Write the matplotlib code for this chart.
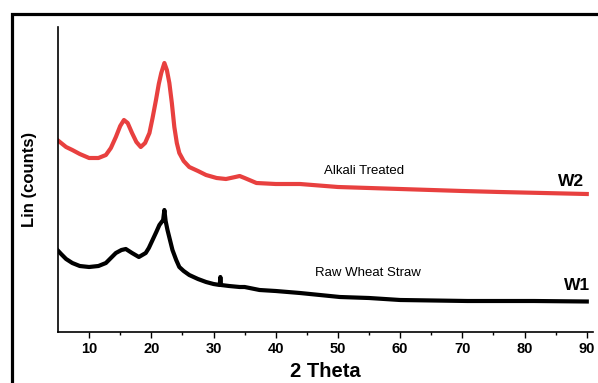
from matplotlib import pyplot as plt
from matplotlib.patches import Rectangle

plt.rcParams['font.family'] = ['Liberation Sans', 'DejaVu Sans']

# W2 - alkali treated (2 theta, counts)
w2_theta = [4.9, 5.5, 6.3, 7.3, 8.5, 10, 11.5, 12.7, 13.5, 14.3, 15, 15.6, 16.2, 16.9,
            17.6, 18.3, 19, 19.7, 20.2, 20.75, 21.2, 21.6, 22.1, 22.5, 22.9, 23.3, 23.7,
            24.1, 24.5, 25.2, 26.1, 27.5, 28.8, 30.5, 32, 33.5, 34.2, 35, 36.9, 40,
            43.9, 50, 60, 70, 76, 83, 90]
w2_counts = [1920, 1890, 1850, 1820, 1780, 1740, 1740, 1770, 1840, 1950, 2060, 2120, 2090, 1990,
             1900, 1850, 1890, 1990, 2140, 2320, 2480, 2590, 2690, 2620, 2490, 2290, 2050,
             1890, 1790, 1710, 1650, 1610, 1570, 1540, 1530, 1550, 1560, 1540, 1490, 1480,
             1480, 1450, 1430, 1410, 1400, 1390, 1380]

# W1 - raw wheat straw
w1_theta = [4.9, 5.5, 6.3, 7.3, 8.5, 10, 11.5, 12.7, 13.5, 14.3, 15.2, 15.9, 16.9, 18,
            19.1, 19.6, 20.2, 20.8, 21.3, 21.9, 22.1, 22.3, 22.6, 23, 23.4, 24, 24.5,
            25.2, 26.1, 27.5, 28.8, 30, 31, 31.1, 31.2, 32.5, 34.2, 35, 37.4, 40, 43.9,
            50.3, 55, 60, 70.8, 81.5, 90]
w1_counts = [820, 780, 730, 690, 660, 650, 660, 690, 740, 790, 820, 830, 790, 750,
             790, 840, 920, 1000, 1070, 1120, 1220, 1110, 1020, 920, 820, 720, 650,
             610, 570, 530, 500, 480, 470, 550, 470, 460, 450, 450, 420, 410, 390,
             350, 340, 320, 310, 310, 305]

xticks = [10, 20, 30, 40, 50, 60, 70, 80, 90]

fig = plt.figure(figsize=(5.98, 3.83), dpi=100)
ax = fig.add_axes([58/598, 51/383, 535/598, 305/383])

ax.plot(w2_theta, w2_counts, color='#e8403f', lw=3, solid_joinstyle='round')
ax.plot(w1_theta, w1_counts, color='black', lw=3, solid_joinstyle='round')

ax.text(54.2, 1610, 'Alkali Treated', fontsize=9.5, ha='center', va='center')
ax.text(54.8, 593, 'Raw Wheat Straw', fontsize=9.5, ha='center', va='center')
ax.text(87.4, 1503, 'W2', fontsize=12.5, fontweight='bold', ha='center', va='center')
ax.text(88.4, 460, 'W1', fontsize=12.5, fontweight='bold', ha='center', va='center')

ax.set_xlim(5, 91)
ax.set_ylim(0, 3050)
ax.set_xticks(xticks)
ax.set_xticks([15, 25, 35, 45, 55, 65, 75, 85], minor=True)
ax.set_yticks([])
for lab in ax.get_xticklabels():
    lab.set_fontweight('bold')
ax.tick_params(axis='x', which='major', length=4, width=1, labelsize=10.5, pad=3.5)
ax.tick_params(axis='x', which='minor', length=2.5, width=1)
ax.spines['top'].set_visible(False)
ax.spines['right'].set_visible(False)
ax.spines['left'].set_linewidth(1.2)
ax.spines['bottom'].set_linewidth(1.2)

ax.set_xlabel('2 Theta', fontsize=14.5, fontweight='bold', labelpad=4)
ax.set_ylabel('Lin (counts)', fontsize=12, fontweight='bold', labelpad=15)

# outer frame round the whole figure
fig.patches.append(Rectangle((12/598, -0.1), 1.2, (383 - 14)/383 + 0.1,
                             transform=fig.transFigure, fill=False,
                             edgecolor='black', lw=2.3, clip_on=False))

fig.savefig('out.png', dpi=100)
